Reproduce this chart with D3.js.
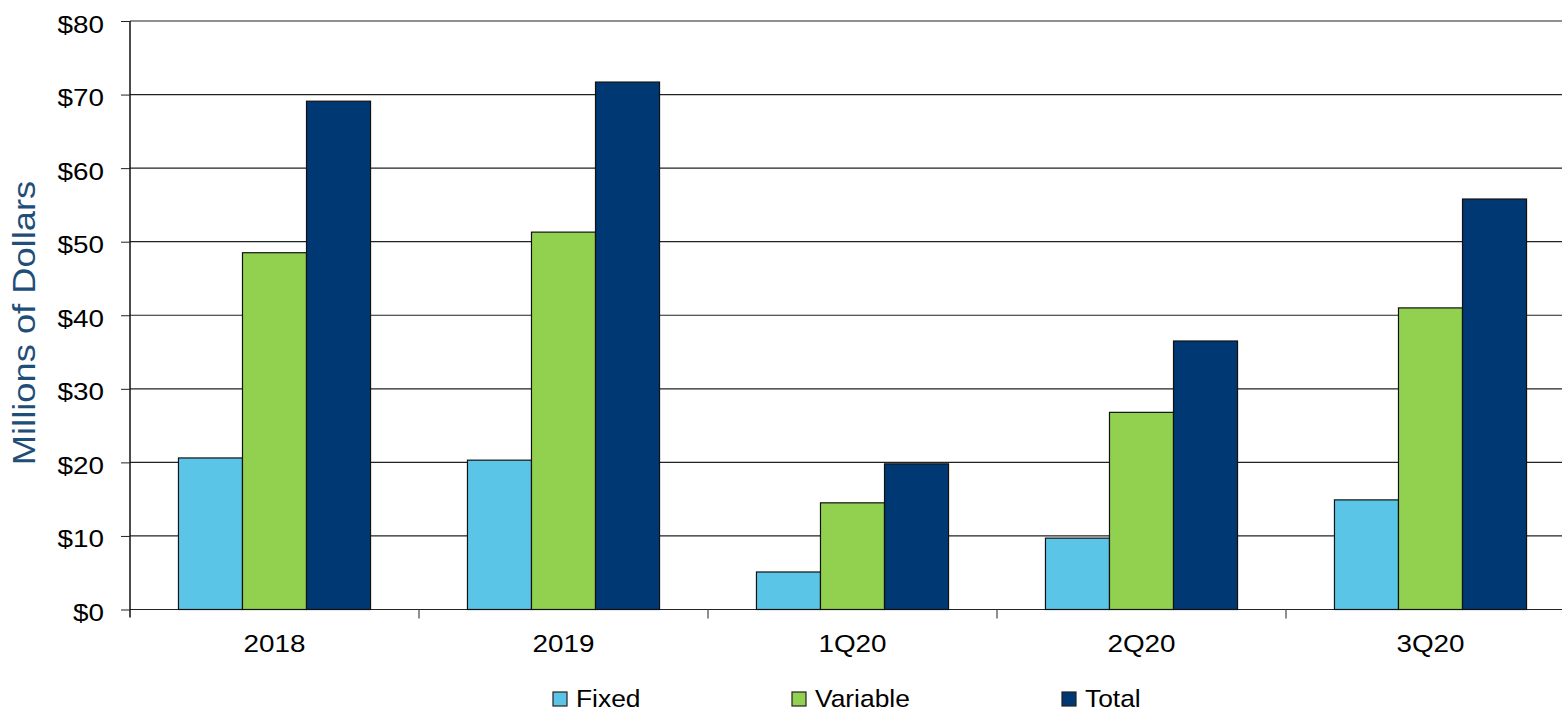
<!DOCTYPE html>
<html><head><meta charset="utf-8">
<script src="https://cdn.jsdelivr.net/npm/d3@7"></script>
<style>body{margin:0;background:#fff;} svg{display:block;font-family:"Liberation Sans",Arial,sans-serif;}</style>
</head><body>
<svg id="c" width="1562" height="713"></svg>
<script>
const categories = ["2018", "2019", "1Q20", "2Q20", "3Q20"];
const seriesNames = ["Fixed", "Variable", "Total"];
const fixedValues = [20.6, 20.3, 5.1, 9.7, 14.9];
const variableValues = [48.5, 51.3, 14.5, 26.8, 41.0];
const totalValues = [69.1, 71.7, 19.8, 36.5, 55.8];
const yTicks = [0, 10, 20, 30, 40, 50, 60, 70, 80];
const colors = ["#5BC5E8", "#92D050", "#003873"];

(function () {
const svg = d3.select("#c");
const pL = 130, pR = 1575, pT = 21, pB = 609.5;
const SX = 1.16;
const x = d3.scaleBand().domain(categories).range([pL, pR]).paddingInner(0).paddingOuter(0);
const xs = d3.scaleBand().domain(seriesNames).range([0, x.bandwidth()]).paddingInner(0).paddingOuter(0.757);
const y = d3.scaleLinear().domain([0, 80]).range([pB, pT]);

// gridlines
svg.append("g").selectAll("line").data(yTicks).join("line")
  .attr("x1", pL).attr("x2", 1562)
  .attr("y1", d => y(d)).attr("y2", d => y(d))
  .attr("stroke", "#222").attr("stroke-width", 1.2);

// y axis
const ya = svg.append("g").attr("transform", `translate(${pL},0)`)
  .call(d3.axisLeft(y).tickValues(yTicks).tickSize(9).tickPadding(17).tickFormat(d => "$" + d));
ya.select(".domain").attr("stroke", "#111").attr("stroke-width", 1.5).attr("d", `M0,${pT}V${pB + 8}`);
ya.selectAll(".tick line").attr("stroke", "#222");
ya.selectAll("text")
  .attr("font-size", 24).attr("fill", "#000").attr("font-family", "Liberation Sans, Arial, sans-serif")
  .attr("dy", "0.46em")
  .attr("x", -26 / SX).attr("transform", `scale(${SX},1)`);

// x axis
const xa = svg.append("g").attr("transform", `translate(0,${pB})`)
  .call(d3.axisBottom(x).tickSize(0).tickPadding(25));
xa.select(".domain").remove();
xa.selectAll(".tick").each(function () {
  const t = d3.select(this);
  const m = /translate\(([^,]+),/.exec(t.attr("transform"));
  const tx = +m[1];
  t.attr("transform", "translate(0,0)");
  t.select("text").attr("x", tx / SX).attr("transform", `scale(${SX},1)`);
});
xa.selectAll("text").attr("font-size", 24).attr("fill", "#000").attr("font-family", "Liberation Sans, Arial, sans-serif");
const bounds = categories.map(c => x(c)).slice(1);
svg.append("g").selectAll("line").data(bounds).join("line")
  .attr("x1", d => d).attr("x2", d => d).attr("y1", pB).attr("y2", pB + 9)
  .attr("stroke", "#444").attr("stroke-width", 1.2);

// bars
const rows = categories.map((c, i) => ({c, vals: [fixedValues[i], variableValues[i], totalValues[i]]}));
const g = svg.append("g");
rows.forEach(r => {
  r.vals.forEach((v, j) => {
    g.append("rect")
      .attr("x", x(r.c) + xs(seriesNames[j]))
      .attr("y", y(v))
      .attr("width", xs.bandwidth())
      .attr("height", y(0) - y(v))
      .attr("fill", colors[j])
      .attr("stroke", "#111").attr("stroke-width", 1.2);
  });
});

// y title
svg.append("text").attr("transform", "translate(35,323) rotate(-90) scale(1.19,1)")
  .attr("text-anchor", "middle").attr("font-size", 30.5).attr("fill", "#1F4E79")
  .text("Millions of Dollars");

// legend
const legX = [553, 792, 1062];
const LSX = 1.1;
const lg = svg.append("g");
seriesNames.forEach((s, i) => {
  lg.append("rect").attr("x", legX[i]).attr("y", 692).attr("width", 14).attr("height", 14)
    .attr("fill", colors[i]).attr("stroke", "#222").attr("stroke-width", 1.2);
  lg.append("text").attr("x", (legX[i] + 23) / LSX).attr("y", 707)
    .attr("transform", `scale(${LSX},1)`)
    .attr("font-size", 24).attr("fill", "#000").text(s);
});
})();
</script>
</body></html>
